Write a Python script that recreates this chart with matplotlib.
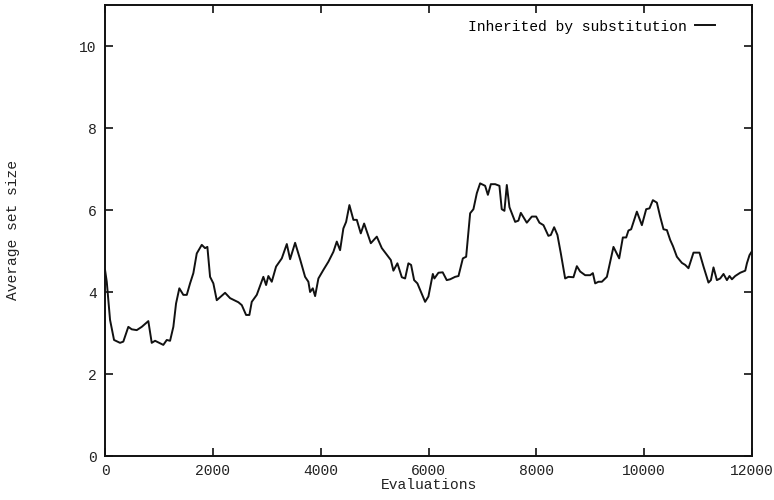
import matplotlib
matplotlib.use('Agg')
import matplotlib.pyplot as plt

# values
evaluations = [0, 32, 93, 167, 278, 339, 432, 495, 588, 681, 803, 866, 928, 1081,
               1145, 1206, 1267, 1317, 1378, 1452, 1516, 1577, 1638, 1701, 1794,
               1855, 1898, 1948, 2009, 2072, 2226, 2319, 2473, 2536, 2616, 2677,
               2721, 2814, 2936, 2987, 3029, 3092, 3172, 3278, 3371, 3432, 3525,
               3617, 3710, 3771, 3803, 3853, 3896, 3957, 4050, 4143, 4235, 4298,
               4359, 4420, 4471, 4532, 4606, 4669, 4743, 4805, 4929, 5040, 5133,
               5255, 5300, 5348, 5422, 5504, 5565, 5626, 5676, 5732, 5793, 5936,
               5997, 6079, 6108, 6183, 6262, 6337, 6400, 6493, 6555, 6636, 6697,
               6771, 6832, 6895, 6956, 7049, 7100, 7155, 7235, 7314, 7357, 7407,
               7451, 7500, 7606, 7666, 7711, 7822, 7915, 7995, 8056, 8131, 8222,
               8267, 8329, 8390, 8453, 8533, 8594, 8687, 8750, 8811, 8904, 8997,
               9047, 9090, 9151, 9214, 9307, 9429, 9535, 9603, 9665, 9707, 9757,
               9863, 9956, 10036, 10097, 10160, 10234, 10295, 10357, 10420, 10481,
               10532, 10605, 10698, 10760, 10820, 10913, 11024, 11099, 11191,
               11236, 11284, 11347, 11408, 11470, 11533, 11581, 11626, 11687,
               11780, 11873, 11904, 11952, 12000]
set_size = [4.54, 4.25, 3.32, 2.83, 2.76, 2.79, 3.15, 3.09, 3.07, 3.15, 3.29,
            2.76, 2.81, 2.71, 2.83, 2.81, 3.15, 3.72, 4.09, 3.93, 3.93, 4.21,
            4.46, 4.94, 5.15, 5.07, 5.10, 4.37, 4.21, 3.80, 3.98, 3.85, 3.75,
            3.68, 3.44, 3.44, 3.76, 3.93, 4.37, 4.17, 4.39, 4.25, 4.62, 4.82,
            5.17, 4.80, 5.20, 4.80, 4.37, 4.25, 4.00, 4.09, 3.90, 4.33, 4.54,
            4.74, 4.98, 5.23, 5.02, 5.55, 5.71, 6.12, 5.76, 5.76, 5.43, 5.67,
            5.19, 5.35, 5.07, 4.86, 4.78, 4.52, 4.70, 4.36, 4.33, 4.70, 4.66,
            4.29, 4.21, 3.76, 3.89, 4.44, 4.33, 4.47, 4.48, 4.29, 4.31, 4.37,
            4.39, 4.82, 4.86, 5.92, 6.02, 6.41, 6.65, 6.59, 6.37, 6.63, 6.63,
            6.59, 6.02, 5.98, 6.61, 6.07, 5.71, 5.74, 5.93, 5.69, 5.84, 5.84,
            5.69, 5.63, 5.37, 5.39, 5.58, 5.39, 4.94, 4.33, 4.37, 4.36, 4.63,
            4.50, 4.41, 4.41, 4.46, 4.21, 4.25, 4.25, 4.37, 5.10, 4.82, 5.33,
            5.33, 5.50, 5.53, 5.96, 5.63, 6.02, 6.04, 6.24, 6.18, 5.84, 5.53,
            5.51, 5.27, 5.12, 4.86, 4.71, 4.66, 4.58, 4.96, 4.96, 4.62, 4.23,
            4.29, 4.60, 4.29, 4.33, 4.44, 4.29, 4.39, 4.31, 4.39, 4.47, 4.52,
            4.70, 4.90, 5.00]
x_ticks = [0, 2000, 4000, 6000, 8000, 10000, 12000]
y_ticks = [0, 2, 4, 6, 8, 10]

plt.rcParams['font.family'] = ['Liberation Mono', 'DejaVu Sans Mono']
plt.rcParams['font.size'] = 10.5

fig = plt.figure(figsize=(7.74, 5), dpi=100)
ax = fig.add_axes([0.1357, 0.088, 0.836, 0.902])

ax.plot(evaluations, set_size, color='#111111', linewidth=1.4,
        label='Inherited by substitution')

ax.set_xlim(0, 12000)
ax.set_ylim(0, 11)
ax.set_xticks(x_ticks)
ax.set_yticks(y_ticks)
ax.tick_params(direction='in', length=6, width=1.2, top=True, right=True,
               colors='#111111', labelcolor='#222222', pad=6)
for spine in ax.spines.values():
    spine.set_linewidth(1.4)
    spine.set_color('#111111')

ax.set_xlabel('Evaluations', labelpad=0, color='#222222')
ax.set_ylabel('Average set size', color='#222222')
# gnuplot puts the y label far out at the figure edge
ax.yaxis.set_label_coords(-0.132, 0.5)

ax.legend(loc='upper right', frameon=False, markerfirst=False,
          handlelength=1.35, handletextpad=0.6, borderaxespad=0.6,
          bbox_to_anchor=(0.965, 1.0))

fig.savefig('out.png', dpi=100)
